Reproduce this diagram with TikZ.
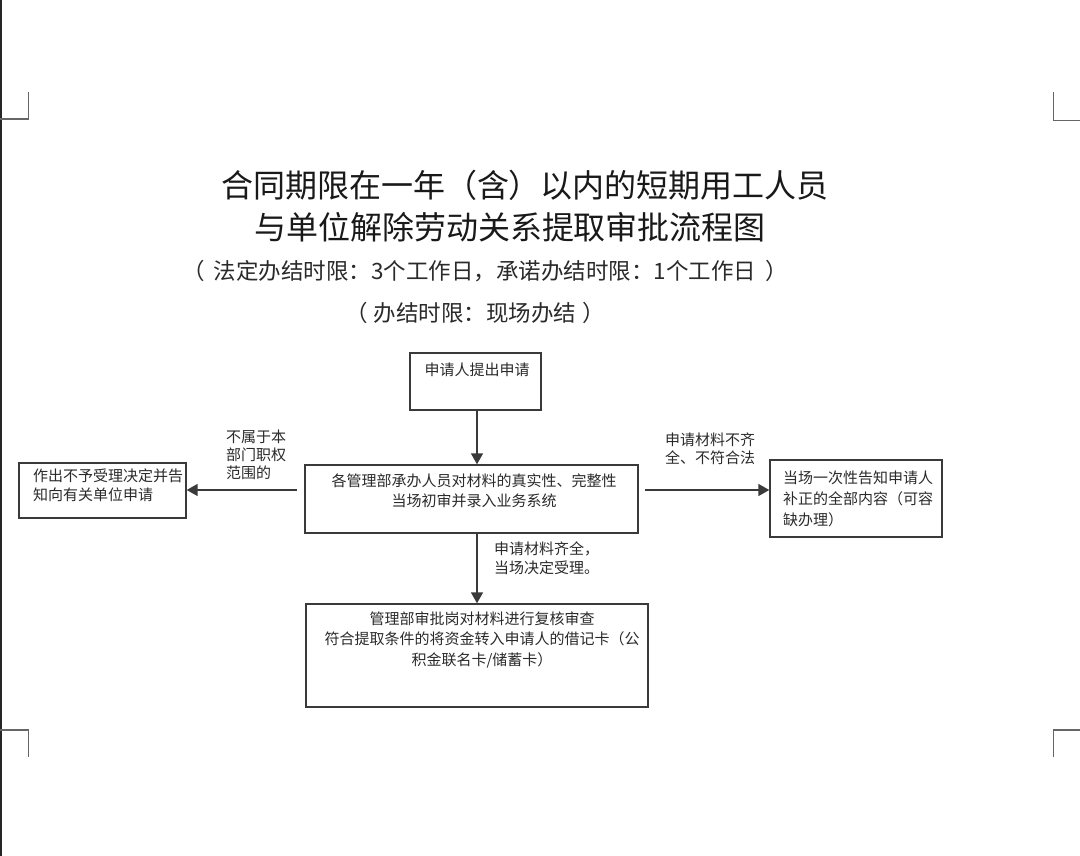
\documentclass[tikz,border=0pt]{standalone}
\usepackage{fontspec}
\setmainfont{Noto Sans CJK SC}
\usetikzlibrary{arrows.meta,calc}
\definecolor{ink}{HTML}{2A2A2A}
\definecolor{edge}{HTML}{3A3A3A}
\tikzset{
  boxnode/.style={draw=edge,line width=1.4pt,rectangle,inner sep=0pt,fill=white},
  txt/.style={text=ink,inner sep=0pt,font=\fontsize{15}{20}\selectfont},
  conn/.style={draw=edge,line width=1.5pt,-{Triangle[length=11pt,width=12pt]}},
  cornermark/.style={draw=gray!80!black,line width=1.5pt},
}
\begin{document}
\begin{tikzpicture}[x=1pt,y=-1pt]
\useasboundingbox (0,0) rectangle (1080,856);
\fill[white] (0,0) rectangle (1080,856);
\fill[black!85] (0,0) rectangle (2,856);
% corner marks
\draw[cornermark] (0,119) -- (28.5,119) -- (28.5,92);
\draw[cornermark] (1053.5,92) -- (1053.5,120.5) -- (1080,120.5);
\draw[cornermark] (0,730) -- (28.5,730) -- (28.5,757);
\draw[cornermark] (1053.5,757) -- (1053.5,730) -- (1080,730);
% titles
\node[text=black!90,inner sep=0pt,font=\fontsize{32}{36}\selectfont] (t1) at (525,185) {合同期限在一年（含）以内的短期用工人员};
\node[text=black!90,inner sep=0pt,font=\fontsize{32}{36}\selectfont] (t2) at (510,227) {与单位解除劳动关系提取审批流程图};
\node[text=ink,inner sep=0pt,font=\fontsize{22.5}{26}\selectfont] (t3) at (485,271) {（\hspace{9pt}法定办结时限：3个工作日，承诺办结时限：1个工作日\hspace{9pt}）};
\node[text=ink,inner sep=0pt,font=\fontsize{22.5}{26}\selectfont] (t4) at (475,313) {（\hspace{6pt}办结时限：现场办结\hspace{6pt}）};
% boxes
\node[boxnode,minimum width=131pt,minimum height=57pt] (b1) at (475.5,381.5) {};
\node[txt] (b1t) at (477,370) {申请人提出申请};
\node[boxnode,minimum width=333pt,minimum height=68pt] (b2) at (471.5,499) {};
\node[txt,align=center] (b2t) at (474,491) {各管理部承办人员对材料的真实性、完整性\\当场初审并录入业务系统};
\node[boxnode,minimum width=167pt,minimum height=55pt] (bl) at (102.5,490.5) {};
\node[txt,align=left,anchor=west,font=\fontsize{15}{19}\selectfont] (blt) at (33,485) {作出不予受理决定并告\\知向有关单位申请};
\node[boxnode,minimum width=172pt,minimum height=77pt] (br) at (856,498.5) {};
\node[txt,align=left,anchor=west,font=\fontsize{15}{21}\selectfont] (brt) at (783,499) {当场一次性告知申请人\\补正的全部内容（可容\\缺办理）};
\node[boxnode,minimum width=342pt,minimum height=103pt] (b3) at (477,655.5) {};
\node[txt,align=center,font=\fontsize{15}{20.5}\selectfont] (b3t) at (482,639.5) {管理部审批岗对材料进行复核审查\\符合提取条件的将资金转入申请人的借记卡（公\\积金联名卡/储蓄卡）};
% connectors
\coordinate (ax) at (477,0);
\coordinate (ls) at (297,490);
\coordinate (rs) at (645,490);
\draw[conn] (b1.south -| ax) -- (b2.north -| ax);
\draw[conn] (ls) -- (ls -| bl.east);
\draw[conn] (rs) -- (rs -| br.west);
\draw[conn] (b2.south -| ax) -- (b3.north -| ax);
% labels
\node[txt,align=left,anchor=west,font=\fontsize{15}{18}\selectfont] (ll) at (226,455) {不属于本\\部门职权\\范围的};
\node[txt,align=left,anchor=west,font=\fontsize{15}{18}\selectfont] (rl) at (665,449) {申请材料不齐\\全、不符合法};
\node[txt,align=left,anchor=west,font=\fontsize{15}{19}\selectfont] (dl) at (494,558.5) {申请材料齐全，\\当场决定受理。};
\end{tikzpicture}
\end{document}
